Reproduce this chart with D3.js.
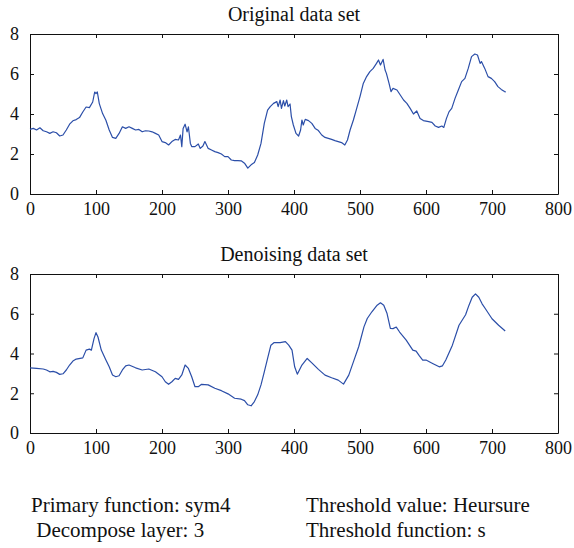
<!DOCTYPE html>
<html>
<head>
<meta charset="utf-8">
<script src="https://cdn.jsdelivr.net/npm/d3@7"></script>
<style>
  body { margin: 0; background: #fff; }
  svg text { font-family: "Liberation Serif", "DejaVu Serif", serif; fill: #111; }
</style>
</head>
<body>
<svg id="chart" width="574" height="548"></svg>
<script>
// original (noisy) series
const origX = [0,5,10,15,20,25,30,35,40,45,50,55,60,65,70,75,80,85,90,95,98,100,102,105,110,115,120,125,130,135,140,145,150,155,160,165,170,175,180,185,190,195,200,205,210,215,220,225,228,230,232,235,238,240,243,245,250,255,258,262,265,270,275,280,285,290,295,300,305,310,315,320,325,330,335,340,345,350,355,360,364,369,374,376,379,381,384,386,389,391,394,396,399,403,407,410,412,414,417,422,427,432,437,442,447,452,457,462,467,472,477,481,485,490,495,500,505,510,515,520,525,528,531,535,538,540,544,547,550,556,561,566,571,576,581,586,591,596,604,609,614,619,624,627,631,635,639,644,649,654,659,664,669,674,678,682,684,689,694,699,704,709,714,719,721];
const origY = [3.23,3.28,3.2,3.31,3.16,3.11,3.03,3.11,3.06,2.9,2.95,3.2,3.49,3.66,3.72,3.82,4.1,4.35,4.32,4.6,5.1,5.02,5.1,4.52,4.02,3.69,3.2,2.83,2.78,3.03,3.36,3.28,3.36,3.28,3.2,3.23,3.11,3.16,3.15,3.11,3.03,2.95,2.62,2.57,2.45,2.62,2.73,2.7,2.95,2.37,3.28,3.49,3.11,3.36,2.53,2.37,2.37,2.5,2.28,2.4,2.62,2.28,2.2,2.12,2.07,2.0,1.87,1.87,1.7,1.67,1.67,1.66,1.54,1.29,1.46,1.57,1.95,2.53,3.53,4.19,4.37,4.53,4.62,4.37,4.7,4.28,4.67,4.4,4.7,4.37,4.5,3.87,3.45,3.03,2.9,3.2,3.7,3.45,3.73,3.67,3.53,3.28,3.17,2.95,2.83,2.78,2.73,2.67,2.62,2.57,2.45,2.7,3.2,3.7,4.28,4.87,5.53,5.87,6.12,6.28,6.53,6.7,6.45,6.73,6.2,6.03,5.53,5.12,5.28,5.2,4.95,4.7,4.53,4.28,4.0,4.15,3.78,3.67,3.62,3.58,3.4,3.33,3.4,3.33,3.78,4.12,4.28,4.78,5.2,5.62,5.78,6.28,6.87,7.0,6.95,6.53,6.62,6.28,5.87,5.78,5.62,5.37,5.23,5.12,5.1];

// denoised series
const denX = [0,10,20,25,30,35,40,45,50,55,60,65,70,80,85,90,93,97,100,103,108,115,120,125,130,135,140,145,150,160,170,180,190,200,205,210,215,220,225,230,235,240,245,250,255,260,270,280,290,300,310,320,325,330,335,340,345,350,355,360,365,370,379,387,392,397,401,405,412,420,427,437,447,457,467,475,483,490,498,506,511,518,526,531,536,541,546,550,555,560,570,580,585,590,595,600,610,620,625,630,640,650,660,665,670,675,680,685,690,700,710,720];
const denY = [3.28,3.25,3.22,3.17,3.08,3.1,3.05,2.95,2.98,3.17,3.42,3.62,3.72,3.78,4.17,4.22,4.17,4.75,5.05,4.83,4.17,3.67,3.33,2.92,2.83,2.88,3.17,3.38,3.42,3.28,3.17,3.22,3.08,2.83,2.58,2.45,2.58,2.75,2.7,2.92,3.42,3.25,2.83,2.33,2.33,2.45,2.42,2.25,2.13,1.97,1.75,1.7,1.63,1.42,1.37,1.58,1.92,2.42,3.08,3.75,4.42,4.55,4.55,4.6,4.42,4.17,3.33,2.96,3.42,3.75,3.53,3.2,2.91,2.78,2.66,2.46,2.91,3.58,4.34,5.34,5.76,6.1,6.43,6.55,6.43,6.01,5.26,5.25,5.33,5.08,4.67,4.17,4.12,3.88,3.67,3.67,3.5,3.33,3.38,3.67,4.42,5.42,5.95,6.42,6.83,7.0,6.83,6.5,6.25,5.75,5.42,5.13];

const xTicks = [0,100,200,300,400,500,600,700,800];
const yTicks = [0,2,4,6,8];
const notes = [
  ["Primary function: sym4", "Threshold value: Heursure"],
  [" Decompose layer: 3", "Threshold function: s"]
];

const svg = d3.select("#chart");
const left = 30, right = 558;
const lineColor = "#2b4ea8";

function panel(top, bottom, title, xs, ys){
  const x = d3.scaleLinear().domain([0, 800]).range([left, right]);
  const y = d3.scaleLinear().domain([0, 8]).range([bottom, top]);

  const axes = [
    [d3.axisBottom(x), `translate(0,${bottom})`, true],
    [d3.axisTop(x), `translate(0,${top})`, false],
    [d3.axisLeft(y), `translate(${left},0)`, true],
    [d3.axisRight(y), `translate(${right},0)`, false]
  ];
  axes.forEach(([ax, tr, labels], i) => {
    ax.tickValues(i < 2 ? xTicks : yTicks).tickSizeInner(-4).tickSizeOuter(0)
      .tickPadding(i < 2 ? 8 : 11);
    if (!labels) ax.tickFormat("");
    const g = svg.append("g").attr("transform", tr).call(ax);
    g.selectAll("text").style("font-family", '"Liberation Serif", serif')
      .style("font-size", "18px").attr("fill", "#111");
    g.selectAll("line, path").attr("stroke", "#111");
  });

  const line = d3.line()
    .x((d, i) => x(xs[i]))
    .y(d => y(d));

  svg.append("path")
    .datum(ys)
    .attr("d", line)
    .attr("fill", "none")
    .attr("stroke", lineColor)
    .attr("stroke-width", 1.2)
    .attr("stroke-linejoin", "round");

  svg.append("text")
    .attr("x", (left + right) / 2)
    .attr("y", top - 13)
    .attr("text-anchor", "middle")
    .style("font-size", "20px")
    .text(title);
}

panel(34, 194, "Original data set", origX, origY);
panel(274, 433, "Denoising data set", denX, denY);

notes.forEach((row, i) => {
  svg.append("text").attr("x", 31).attr("y", 512 + i * 25)
    .style("font-size", "21px").style("white-space", "pre").text(row[0]);
  svg.append("text").attr("x", 306).attr("y", 512 + i * 25)
    .style("font-size", "21px").text(row[1]);
});
</script>
</body>
</html>
